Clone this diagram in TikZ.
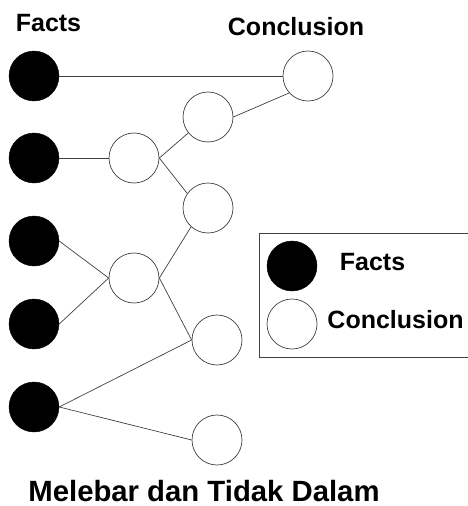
\documentclass[tikz,border=0pt]{standalone}
\usepackage{fontspec}
\setmainfont{Liberation Sans}
\begin{document}
\begin{tikzpicture}[x=1pt,y=-1pt,
  fact/.style={circle,fill=black,draw=black,minimum size=50pt,inner sep=0pt},
  concl/.style={circle,fill=white,draw=black!75,line width=0.7pt,minimum size=50pt,inner sep=0pt},
  conn/.style={draw=black!75,line width=0.7pt},
  lbl/.style={font=\bfseries\fontsize{25}{28}\selectfont,anchor=base,inner sep=0pt},
  title/.style={font=\bfseries\fontsize{29.3}{32}\selectfont,anchor=base,inner sep=0pt}]
\useasboundingbox (0,0) rectangle (467,506);
% legend box
\draw[draw=black!75,line width=0.7pt] (480,233) -- (259,233) -- (259,357) -- (480,357);
% nodes
\node[fact] (b1) at (34,76) {};
\node[fact] (b2) at (34,158) {};
\node[fact] (b3) at (34,241) {};
\node[fact] (b4) at (34,324) {};
\node[fact] (b5) at (34,407) {};
\node[concl] (wt) at (308,76) {};
\node[concl] (w1) at (208,117) {};
\node[concl] (w2) at (134,158) {};
\node[concl] (w3) at (208,208) {};
\node[concl] (w4) at (134,278) {};
\node[concl] (w5) at (217,340) {};
\node[concl] (w6) at (217,440) {};
\node[fact] (lb) at (292,266) {};
\node[concl] (lw) at (292,324) {};
% connectors
\path[conn] (b1.east) -- (wt.west);
\path[conn] (w1.east) -- (wt.222);
\path[conn] (b2.east) -- (w2.west);
\path[conn] (w2.east) -- (w1.219);
\path[conn] (w2.east) -- (w3.145);
\path[conn] (b3.east) -- (w4.west);
\path[conn] (b4.east) -- (w4.west);
\path[conn] (w4.east) -- (w3.228);
\path[conn] (w4.east) -- (w5.west);
\path[conn] (b5.east) -- (w5.west);
\path[conn] (b5.east) -- (w6.west);
% texts
\node[lbl] (tf) at (48.5,31) {Facts};
\node[lbl] (tc) at (296,35) {Conclusion};
\node[lbl] (lf) at (372.5,270) {Facts};
\node[lbl] (lc) at (395.5,328) {Conclusion};
\node[title] (tt) at (204,501) {Melebar dan Tidak Dalam};
\end{tikzpicture}
\end{document}
